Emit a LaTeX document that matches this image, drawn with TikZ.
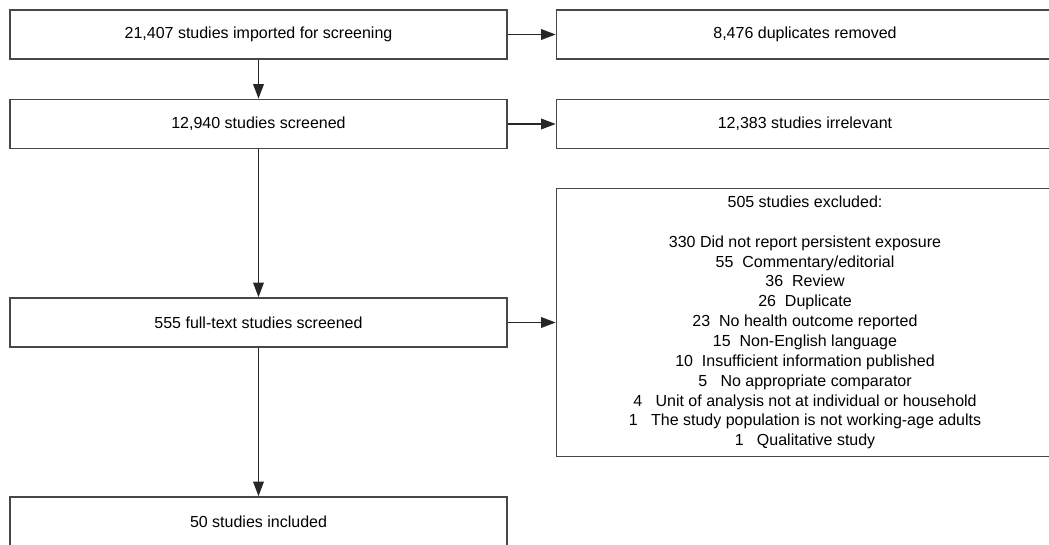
\documentclass[tikz,border=0pt]{standalone}
\usepackage{fontspec}
\setmainfont{Liberation Sans}
\usetikzlibrary{arrows.meta}
\begin{document}
\begin{tikzpicture}[x=0.75pt,y=-0.75pt,
  flowbox/.style={draw=black!72,line width=1.2pt,rectangle,minimum width=372.75pt,minimum height=36.75pt,inner sep=0pt,align=center,font=\fontsize{12}{14.9}\selectfont},
  flowarrow/.style={draw=black!85,line width=1.1pt,-{Triangle[length=11pt,width=8pt]}}]
\useasboundingbox (0,0) rectangle (1049,545);
\clip (0,0) rectangle (1049,545);

% Main column
\node[flowbox] (imported) at (258.5,34.5) {21,407 studies imported for screening};
\node[flowbox] (screened) at (258.5,124) {12,940 studies screened};
\node[flowbox] (fulltext) at (258.5,322.5) {555 full-text studies screened};
\node[flowbox] (included) at (258.5,521.5) {50 studies included};

% Removed records
\node[flowbox] (duplicates) at (805,34.5) {8,476 duplicates removed};
\node[flowbox] (irrelevant) at (805,124) {12,383 studies irrelevant};
\node[flowbox,minimum height=201pt] (excluded) at (805,322.5) {505 studies excluded:\\ \mbox{}\\
  330 Did not report persistent exposure\\
  55\ \ Commentary/editorial\\
  36\ \ Review\\
  26\ \ Duplicate\\
  23\ \ No health outcome reported\\
  15\ \ Non-English language\\
  10\ \ Insufficient information published\\
  5\ \ \ No appropriate comparator\\
  4\ \ \ Unit of analysis not at individual or household\\
  1\ \ \ The study population is not working-age adults\\
  1\ \ \ Qualitative study};

% Connections
\draw[flowarrow] (imported) -- (screened);
\draw[flowarrow] (screened) -- (fulltext);
\draw[flowarrow] (fulltext) -- (included);
\draw[flowarrow] (imported) -- (duplicates);
\draw[flowarrow] (screened) -- (irrelevant);
\draw[flowarrow] (fulltext) -- (excluded);
\end{tikzpicture}
\end{document}
